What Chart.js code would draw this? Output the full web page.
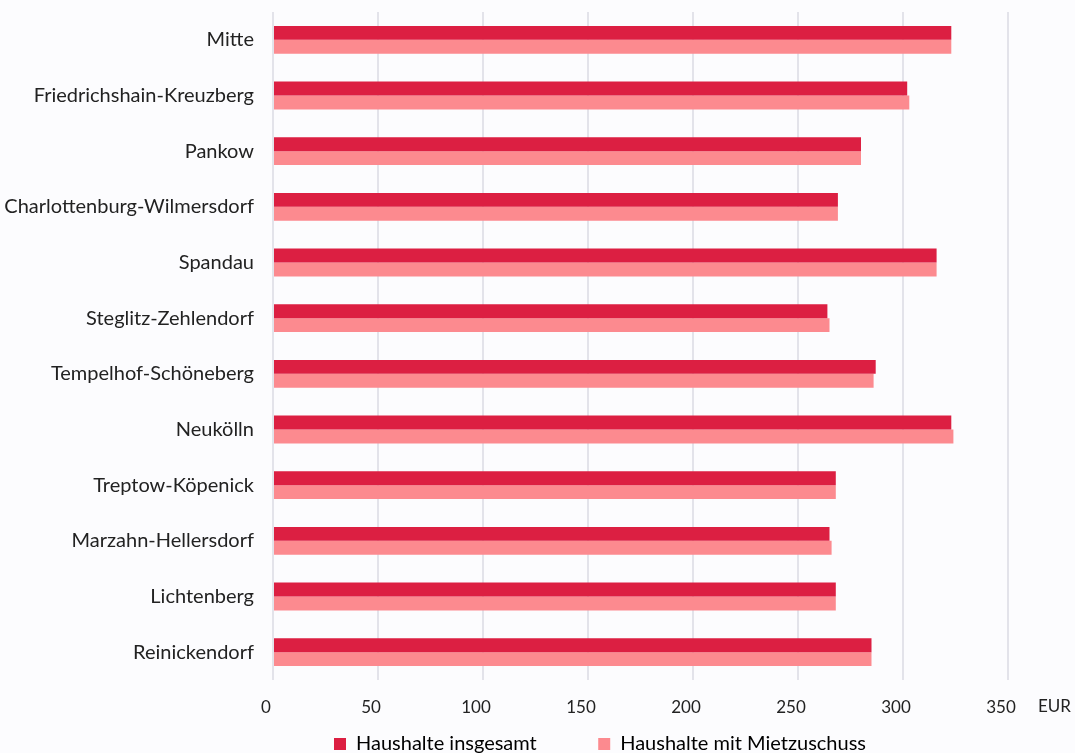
<!DOCTYPE html>
<html>
<head>
<meta charset="utf-8">
<script src="https://cdn.jsdelivr.net/npm/chart.js@4"></script>
<style>
  html, body { margin: 0; padding: 0; background: #fcfcfe; }
  #wrap { width: 1075px; height: 753px; }
</style>
</head>
<body>
<div id="wrap"><canvas id="mietChart"></canvas></div>
<script>
const bezirke = [
  "Mitte",
  "Friedrichshain-Kreuzberg",
  "Pankow",
  "Charlottenburg-Wilmersdorf",
  "Spandau",
  "Steglitz-Zehlendorf",
  "Tempelhof-Schöneberg",
  "Neukölln",
  "Treptow-Köpenick",
  "Marzahn-Hellersdorf",
  "Lichtenberg",
  "Reinickendorf",
];
const insgesamt = [323, 302, 280, 269, 316, 264, 287, 323, 268, 265, 268, 285];
const mitZuschuss = [323, 303, 280, 269, 316, 265, 286, 324, 268, 266, 268, 285];
const xTicks = [0, 50, 100, 150, 200, 250, 300, 350];

const fontFamily = "Lato, 'Open Sans', sans-serif";

// unit label right of the last tick
const eurLabel = {
  id: "eurLabel",
  afterDraw(chart) {
    const area = chart.chartArea;
    const ctx = chart.ctx;
    ctx.save();
    ctx.font = "17px " + fontFamily;
    ctx.fillStyle = "#222";
    ctx.textBaseline = "middle";
    ctx.textAlign = "left";
    ctx.fillText("EUR", area.right + 30, area.bottom + 27);
    ctx.restore();
  },
};

// legend sits a bit right of the canvas centre in the original
const legendShift = {
  id: "legendShift",
  afterLayout(chart) {
    chart.legend.left += 96;
    chart.legend.right += 96;
  },
};

new Chart(document.getElementById("mietChart"), {
  type: "bar",
  data: {
    labels: bezirke,
    datasets: [
      {
        label: "Haushalte insgesamt",
        data: insgesamt,
        backgroundColor: "#dc1f42",
        borderWidth: 0,
        categoryPercentage: 0.5,
        barPercentage: 1,
      },
      {
        label: "Haushalte mit Mietzuschuss",
        data: mitZuschuss,
        backgroundColor: "#fc8a8f",
        borderWidth: 0,
        categoryPercentage: 0.5,
        barPercentage: 1,
      },
    ],
  },
  plugins: [eurLabel, legendShift],
  options: {
    indexAxis: "y",
    responsive: true,
    maintainAspectRatio: false,
    animation: false,
    layout: { padding: { top: 0, right: 67, left: 0, bottom: -11 } },
    plugins: {
      tooltip: { enabled: false },
      legend: {
        position: "bottom",
        labels: {
          font: { family: fontFamily, size: 20 },
          color: "#222",
          boxWidth: 12,
          boxHeight: 12,
          padding: 0,
          generateLabels(chart) {
            return chart.data.datasets.map((ds, i) => ({
              text: ds.label + (i === 0 ? "            " : ""),
              fillStyle: ds.backgroundColor,
              strokeStyle: ds.backgroundColor,
              lineWidth: 0,
              datasetIndex: i,
            }));
          },
        },
      },
    },
    scales: {
      x: {
        min: 0,
        max: 350,
        afterBuildTicks(axis) {
          axis.ticks = xTicks.map((v) => ({ value: v }));
        },
        afterFit(axis) {
          axis.height = 54;
        },
        grid: { color: "#e3e3ea", lineWidth: 2, drawTicks: false },
        border: { display: false },
        ticks: {
          font: { family: fontFamily, size: 17 },
          color: "#222",
          padding: 17,
          labelOffset: -7,
        },
      },
      y: {
        afterFit(axis) {
          axis.width = 273;
        },
        grid: { display: false, drawTicks: true, tickLength: 19 },
        border: { display: false },
        ticks: {
          font: { family: fontFamily, size: 20 },
          color: "#222",
          padding: 0,
        },
      },
    },
  },
});
</script>
</body>
</html>
